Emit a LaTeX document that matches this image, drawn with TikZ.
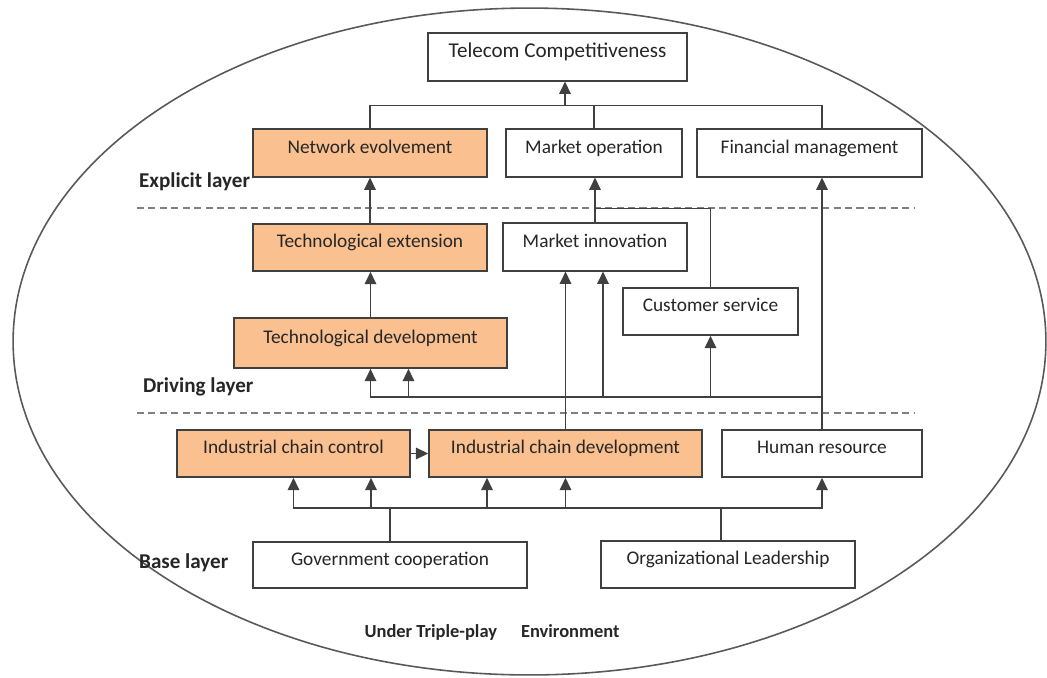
\documentclass[tikz,border=0pt]{standalone}
\usepackage{fontspec}
\setmainfont{Carlito}
\usetikzlibrary{arrows.meta}
\usetikzlibrary{calc}
\definecolor{boxorange}{HTML}{FAC08F}
\definecolor{linegray}{HTML}{404040}

\begin{document}
\begin{tikzpicture}[x=0.02cm,y=-0.02cm,
    every node/.style={font=\fontsize{11}{13}\selectfont,text=black!85},
    blk/.style={draw=linegray,line width=0.9pt,fill=white,minimum height=0.95cm,text height=8pt,text depth=8pt,inner sep=0pt},
    hot/.style={blk,fill=boxorange},
    lyr/.style={font=\fontsize{12}{14}\selectfont\bfseries,anchor=west},
    wire/.style={draw=linegray,line width=1pt},
    arr/.style={wire,-{Triangle[width=6.5pt,length=7pt]}},
    sep/.style={draw=black!50,line width=0.9pt,dash pattern=on 4pt off 2.5pt}]
    \useasboundingbox (0,0) rectangle (1047,677);

    \draw[draw=black!65,line width=0.9pt] (529.5,341.5) ellipse [x radius=10.33cm,y radius=6.67cm];
    \draw[sep] (137,208) -- (915,208);
    \draw[sep] (137,413) -- (915,413);

    \node[lyr] (lex) at (133,182) {Explicit layer};
    \node[lyr] (ldr) at (137,387) {Driving layer};
    \node[lyr] (lba) at (133,563) {Base layer};
    \node[font=\fontsize{10.5}{13}\selectfont\bfseries] (env) at (492,632) {Under Triple-play\hspace{1.3em}Environment};

    \node[blk,minimum width=5.18cm,font=\fontsize{12}{14}\selectfont] (tc) at (557.5,57) {Telecom Competitiveness};
    \node[hot,minimum width=4.68cm] (ne) at (370,153) {Network evolvement};
    \node[blk,minimum width=3.52cm] (mo) at (594,153) {Market operation};
    \node[blk,minimum width=4.5cm] (fm) at (809.5,153) {Financial management};
    \node[hot,minimum width=4.68cm,minimum height=0.94cm] (te) at (370,247.5) {Technological extension};
    \node[blk,minimum width=3.68cm] (mi) at (595,247) {Market innovation};
    \node[blk,minimum width=3.5cm,minimum height=0.94cm] (cs) at (710.5,311.5) {Customer service};
    \node[hot,minimum width=5.46cm,minimum height=1cm] (td) at (370.5,343) {Technological development};
    \node[hot,minimum width=4.66cm,minimum height=0.94cm] (icc) at (293.5,453.5) {Industrial chain control};
    \node[hot,minimum width=5.46cm,minimum height=0.94cm] (icd) at (565.5,453.5) {Industrial chain development};
    \node[blk,minimum width=4cm,minimum height=0.94cm] (hr) at (822,453.5) {Human resource};
    \node[blk,minimum width=5.48cm,minimum height=0.92cm] (gc) at (390,565) {Government cooperation};
    \node[blk,minimum width=5.08cm,minimum height=0.94cm] (ol) at (728,564.5) {Organizational Leadership};

    % explicit layer
    \coordinate (top) at ($(tc.south)+(7.5,24)$);
    \draw[wire] (ne.north) |- (top) -| (fm.north -| hr.north);
    \draw[wire] (mo.north) -- (mo.north |- top);
    \draw[arr] (top) -- (tc.south -| top);

    % driving layer
    \draw[arr] (te) -- (ne);
    \draw[arr] (td.north) -- (td.north |- te.south);
    \draw[arr] (mi.north) -- (mi.north |- mo.south);
    \coordinate (j1) at ($(mi.north)+(0,-14)$);
    \draw[wire] (cs.north) |- (j1);
    \coordinate (j2) at ($(icd.north)+(0,-32)$);
    \draw[arr] (icd.north) -- (icd.north |- mi.south);
    \draw[arr] (j2) -| (td.south);
    \draw[arr] (hr.north) -- (hr.north |- fm.south);
    \draw[arr] (hr.north |- j2) -| ($(td.south)+(38,0)$);
    \draw[arr] (hr.north |- j2) -| ($(mi.south)+(8,0)$);
    \draw[arr] (cs.south |- j2) -- (cs.south);

    % base layer
    \draw[arr] (icc) -- (icd);
    \coordinate (gb) at ($(gc.north)+(0,-33)$);
    \draw[wire] (gc.north) -- (gb);
    \draw[arr] (gb) -| (icc.south);
    \draw[arr] (gb) -| ($(icc.south)+(77.5,0)$);
    \draw[arr] (gb) -| ($(icd.south)+(-78.5,0)$);
    \draw[arr] (gb) -| (icd.south);
    \coordinate (ob) at ($(ol.north)+(-7,-32)$);
    \draw[wire] (ol.north -| ob) -- (ob);
    \draw[arr] (ob) -| (hr.south);
    \draw[wire] (ob) -- (gb -| icd.south);
\end{tikzpicture}
\end{document}
